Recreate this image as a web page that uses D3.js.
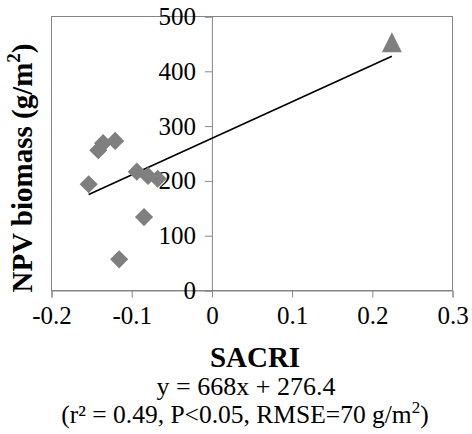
<!DOCTYPE html>
<html>
<head>
<meta charset="utf-8">
<script src="https://cdn.jsdelivr.net/npm/d3@7"></script>
<style>
  body { margin: 0; background: #fff; }
  svg { display: block; }
  svg text { font-family: 'Liberation Serif', 'Times New Roman', serif; }
</style>
</head>
<body>
<div id="chart"></div>
<script>
// data
const diamondX = [-0.153, -0.141, -0.135, -0.120, -0.093, -0.079, -0.067, -0.084, -0.115];
const diamondY = [193, 255, 268, 272, 216, 208, 203, 133, 56];
const triangleX = [0.225];
const triangleY = [452];
const xTicks = [-0.2, -0.1, 0, 0.1, 0.2, 0.3];
const yTicks = [0, 100, 200, 300, 400, 500];
const slope = 668, intercept = 276.4;
const fitRange = [-0.153, 0.225];

const width = 472, height = 434;
const margin = { top: 16, right: 20, bottom: 144, left: 51 };
const plotW = width - margin.left - margin.right;
const plotH = height - margin.top - margin.bottom;
const axisColor = '#868686';
const markColor = '#7f7f7f';

const svg = d3.select('#chart').append('svg')
  .attr('width', width)
  .attr('height', height);

const g = svg.append('g')
  .attr('transform', `translate(${margin.left},${margin.top})`);

const x = d3.scaleLinear().domain([-0.2, 0.3]).range([0, plotW]);
const y = d3.scaleLinear().domain([0, 500]).range([plotH, 0]);

// plot frame
g.append('rect')
  .attr('x', 0.5).attr('y', 0.5)
  .attr('width', plotW).attr('height', plotH)
  .attr('fill', 'none')
  .attr('stroke', axisColor)
  .attr('stroke-width', 1);

// x axis along bottom
const xAxis = d3.axisBottom(x)
  .tickValues(xTicks)
  .tickSize(7)
  .tickPadding(9)
  .tickFormat(d => d === 0 ? '0' : String(d));

g.append('g')
  .attr('transform', `translate(0.5,${plotH + 0.5})`)
  .call(xAxis)
  .attr('font-family', null)
  .call(a => a.select('.domain').attr('stroke', axisColor))
  .call(a => a.selectAll('line').attr('stroke', axisColor))
  .call(a => a.selectAll('text')
    .attr('fill', '#000')
    .attr('font-size', '25px'));

// y axis sits at x = 0
const yAxis = d3.axisLeft(y)
  .tickValues(yTicks)
  .tickSize(7)
  .tickPadding(9);

g.append('g')
  .attr('transform', `translate(${x(0) + 0.5},0.5)`)
  .call(yAxis)
  .attr('font-family', null)
  .call(a => a.select('.domain').attr('stroke', axisColor))
  .call(a => a.selectAll('line').attr('stroke', axisColor))
  .call(a => a.selectAll('text')
    .attr('fill', '#000')
    .attr('font-size', '25px'));

// regression line
g.append('line')
  .attr('x1', x(fitRange[0])).attr('y1', y(slope * fitRange[0] + intercept))
  .attr('x2', x(fitRange[1])).attr('y2', y(slope * fitRange[1] + intercept))
  .attr('stroke', '#000')
  .attr('stroke-width', 1.6);

// diamonds
const diamond = d3.symbol().type(d3.symbolSquare).size(165);
g.selectAll('.dia')
  .data(diamondX.map((v, i) => [v, diamondY[i]]))
  .enter().append('path')
  .attr('class', 'dia')
  .attr('d', diamond)
  .attr('transform', d => `translate(${x(d[0])},${y(d[1])}) rotate(45)`)
  .attr('fill', markColor);

// triangle, centred on its bounding box like the spreadsheet marker
const boxTriangle = {
  draw(ctx, size) {
    const s = Math.sqrt(size);
    ctx.moveTo(0, -s / 2);
    ctx.lineTo(s / 2, s / 2);
    ctx.lineTo(-s / 2, s / 2);
    ctx.closePath();
  }
};
g.selectAll('.tri')
  .data(triangleX.map((v, i) => [v, triangleY[i]]))
  .enter().append('path')
  .attr('class', 'tri')
  .attr('d', d3.symbol().type(boxTriangle).size(400))
  .attr('transform', d => `translate(${x(d[0])},${y(d[1])})`)
  .attr('fill', markColor);

// y axis title
const yTitle = svg.append('text')
  .attr('transform', 'translate(32,168) rotate(-90)')
  .attr('text-anchor', 'middle')
  .attr('font-size', '29px')
  .attr('font-weight', 'bold');
yTitle.append('tspan').text('NPV biomass (g/m');
yTitle.append('tspan').attr('font-size', '19px').attr('dy', -12).text('2');
yTitle.append('tspan').attr('dy', 12).text(')');

// x axis title and fit annotation
svg.append('text')
  .attr('x', 255).attr('y', 367)
  .attr('text-anchor', 'middle')
  .attr('font-size', '29px')
  .attr('font-weight', 'bold')
  .text('SACRI');

svg.append('text')
  .attr('x', 246).attr('y', 395)
  .attr('text-anchor', 'middle')
  .attr('font-size', '26px')
  .text('y = 668x + 276.4');

const note = svg.append('text')
  .attr('x', 245).attr('y', 423)
  .attr('text-anchor', 'middle')
  .attr('font-size', '25.5px');
note.append('tspan').text('(r² = 0.49, P<0.05, RMSE=70 g/m');
note.append('tspan').attr('font-size', '17px').attr('dy', -10).text('2');
note.append('tspan').attr('dy', 10).text(')');
</script>
</body>
</html>
